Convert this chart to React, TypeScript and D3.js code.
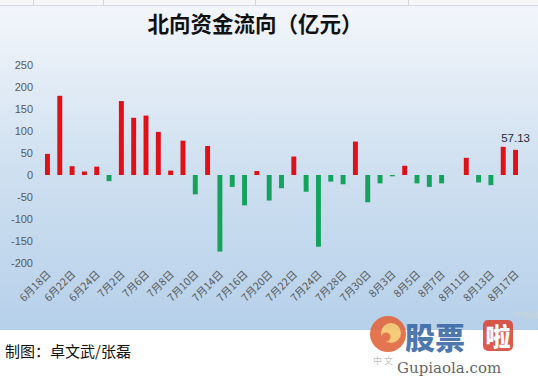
import React from "react";
import * as d3 from "d3";

const categories: string[] = [
  "6月18日", "6月19日", "6月22日", "6月23日", "6月24日", "6月29日",
  "7月2日", "7月3日", "7月6日", "7月7日", "7月8日", "7月9日", "7月10日",
  "7月13日", "7月14日", "7月15日", "7月16日", "7月17日", "7月20日", "7月21日",
  "7月22日", "7月23日", "7月24日", "7月27日", "7月28日", "7月29日", "7月30日",
  "7月31日", "8月3日", "8月4日", "8月5日", "8月6日", "8月7日", "8月10日",
  "8月11日", "8月12日", "8月13日", "8月14日", "8月17日",
];

const values: (number | null)[] = [
  48, 180, 20, 8, 19, -14,
  168, 130, 135, 98, 10, 78, -44,
  66, -174, -27, -69, 9, -58, -30,
  42, -38, -163, -15, -21, 76, -62,
  -19, -3, 21, -19, -27, -19, null,
  39, -17, -23, 64, 57.13,
];

const yTicks: number[] = [250, 200, 150, 100, 50, 0, -50, -100, -150, -200];
const labelledValue = 57.13;

const title = "北向资金流向（亿元）";
const credit = "制图：卓文武/张磊";

const W = 538;
const H = 385;

export default function App() {
  const x = d3
    .scaleBand<string>()
    .domain(categories)
    .range([41.3, 521.7])
    .paddingInner(0.6)
    .paddingOuter(0.3);
  const y = d3.scaleLinear().domain([-200, 250]).range([263, 65]);

  const cx = (c: string) => (x(c) as number) + x.bandwidth() / 2;
  const last = categories[categories.length - 1];

  return (
    <svg
      width={W}
      height={H}
      style={{ position: "absolute", left: 0, top: 0 }}
      xmlns="http://www.w3.org/2000/svg"
    >
      <defs>
        <linearGradient id="bg" x1="0" y1="0" x2="0" y2="1">
          <stop offset="0" stopColor="#f3f6fb" />
          <stop offset="0.5" stopColor="#cfe0f0" />
          <stop offset="1" stopColor="#b6d0ea" />
        </linearGradient>
      </defs>
      <rect x={0} y={0} width={W} height={H} fill="#ffffff" />
      <rect x={0} y={0} width={W} height={5} fill="#f6f6f6" />
      {[33, 103, 255, 408].map((lx) => (
        <line key={lx} x1={lx + 0.5} x2={lx + 0.5} y1={0} y2={5} stroke="#d4d4d4" />
      ))}
      <rect x={0} y={5} width={W} height={325} fill="url(#bg)" />
      <line x1={0} x2={W} y1={5.5} y2={5.5} stroke="#d9dde3" />

      <text
        x={255}
        y={32}
        textAnchor="middle"
        fontFamily="'Noto Sans CJK SC', sans-serif"
        fontWeight={700}
        fontSize={21.5}
        fill="#111"
      >
        {title}
      </text>

      {yTicks.map((t) => (
        <text
          key={t}
          x={33}
          y={y(t)}
          dy="0.35em"
          textAnchor="end"
          fontFamily="'Liberation Sans', Arial, sans-serif"
          fontSize={11}
          fill="#595959"
        >
          {t}
        </text>
      ))}

      {categories.map((c, i) => {
        const v = values[i];
        if (v === null) return null;
        const y0 = y(0);
        const yv = y(v);
        return (
          <rect
            key={c}
            x={x(c)}
            y={Math.min(y0, yv)}
            width={x.bandwidth()}
            height={Math.max(1, Math.abs(yv - y0))}
            fill={v >= 0 ? "#e01018" : "#15a25c"}
          />
        );
      })}

      <text
        x={cx(last)}
        y={y(labelledValue) - 8}
        textAnchor="middle"
        fontFamily="'Liberation Sans', Arial, sans-serif"
        fontSize={11.5}
        fill="#1f2a36"
      >
        {labelledValue.toFixed(2)}
      </text>

      {categories.map((c, i) =>
        i % 2 === 0 ? (
          <text
            key={"l" + c}
            transform={`translate(${cx(c) + 4},${275}) rotate(-45)`}
            textAnchor="end"
            fontFamily="'Noto Sans CJK SC', sans-serif"
            fontSize={10.5}
            fill="#595959"
          >
            {c}
          </text>
        ) : null
      )}

      <text
        x={5}
        y={357}
        fontFamily="'Noto Sans CJK SC', sans-serif"
        fontSize={15}
        fill="#111"
      >
        {credit}
      </text>

      {/* watermark */}
      <g opacity={0.9}>
        <text x={514} y={318} fontFamily="'Noto Sans CJK SC', sans-serif" fontSize={8} fill="#d2d2d2">
          中金网
        </text>
        <circle cx={388} cy={334} r={18} fill="#e2673f" />
        <circle cx={391} cy={333} r={10} fill="#f4c56c" />
        <circle cx={386} cy={337} r={4.5} fill="#e2673f" />
        <text x={405} y={349} fontFamily="'Noto Sans CJK SC', sans-serif" fontWeight={900} fontSize={30} fill="#3b6aa6">
          股票
        </text>
        <rect x={483} y={320} width={30} height={31} rx={5} fill="#d94a3c" />
        <text x={498} y={346} textAnchor="middle" fontFamily="'Noto Sans CJK SC', sans-serif" fontWeight={900} fontSize={25} fill="#ffffff">
          啦
        </text>
        <text x={373} y={364} fontFamily="'Noto Sans CJK SC', sans-serif" fontSize={9} fill="#bbbbbb">
          中 文
        </text>
        <text x={397} y={373} fontFamily="'DejaVu Serif', serif" fontSize={15} fill="#555555">
          Gupiaola.com
        </text>
      </g>
    </svg>
  );
}
